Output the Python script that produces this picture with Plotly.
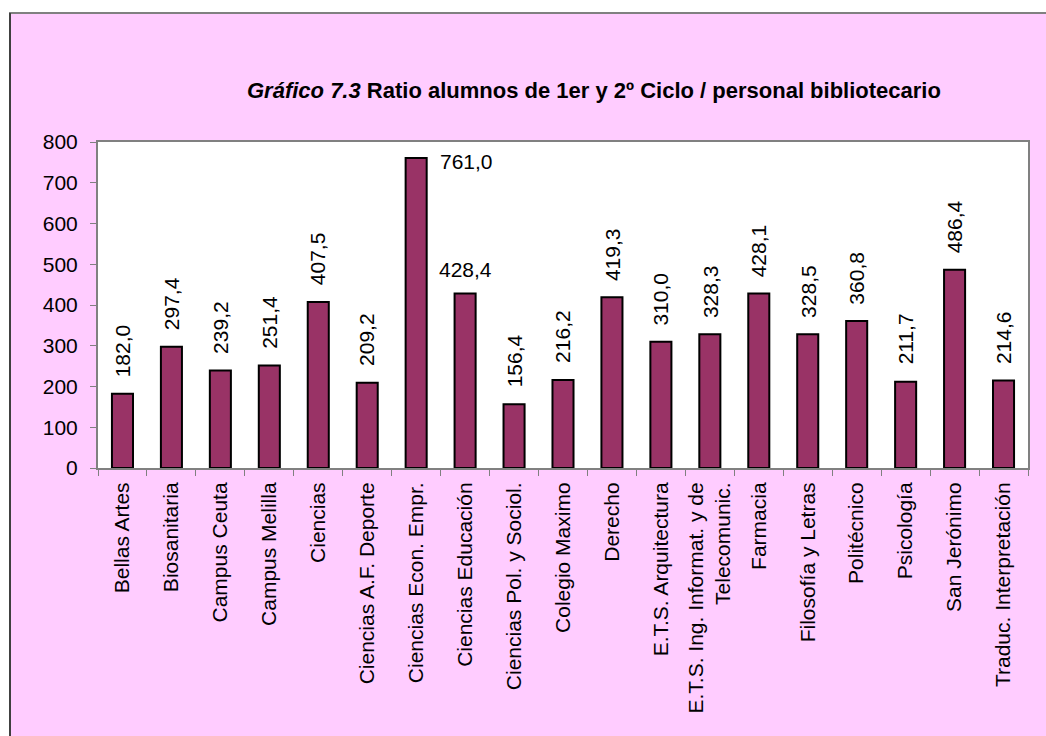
import plotly.graph_objects as go

# Ratio of 1st/2nd cycle students per library staff member, by library
centros = [
    "Bellas Artes", "Biosanitaria", "Campus Ceuta", "Campus Melilla", "Ciencias",
    "Ciencias A.F. Deporte", "Ciencias Econ. Empr.", "Ciencias Educación",
    "Ciencias Pol. y Sociol.", "Colegio Maximo", "Derecho", "E.T.S. Arquitectura",
    "E.T.S. Ing. Informat. y de<br>Telecomunic.", "Farmacia", "Filosofía y Letras",
    "Politécnico", "Psicología", "San Jerónimo", "Traduc. Interpretación",
]
ratios = [182.0, 297.4, 239.2, 251.4, 407.5, 209.2, 761.0, 428.4, 156.4, 216.2,
          419.3, 310.0, 328.3, 428.1, 328.5, 360.8, 211.7, 486.4, 214.6]
y_ticks = [0, 100, 200, 300, 400, 500, 600, 700, 800]

W, H = 1046, 736
L, R, T, B = 98, 1028, 142, 468   # plot area in pixels
FONT = "Liberation Sans, Arial, sans-serif"
FS = 21


def px_x(p):
    return (p - L) / (R - L)


def px_y(p):
    return (B - p) / (B - T)


def fmt(v):
    return f"{v:.1f}".replace(".", ",")


fig = go.Figure()
fig.add_trace(go.Bar(
    x=centros, y=ratios,
    marker=dict(color="#993366", line=dict(color="#000000", width=2)),
    hoverinfo="x+y",
))

annotations = []
for c, v in zip(centros, ratios):
    if v == 761.0:
        annotations.append(dict(x=c, y=v, text=fmt(v), showarrow=False,
                                xanchor="left", yanchor="middle", xshift=22, yshift=-4,
                                font=dict(family=FONT, size=FS, color="#000")))
    elif v == 428.4:
        annotations.append(dict(x=c, y=v, text=fmt(v), showarrow=False,
                                xanchor="center", yanchor="middle", yshift=24,
                                font=dict(family=FONT, size=FS, color="#000")))
    else:
        annotations.append(dict(x=c, y=v, text=fmt(v), showarrow=False, textangle=-90,
                                xanchor="center", yanchor="middle", yshift=43,
                                font=dict(family=FONT, size=FS, color="#000")))

annotations.append(dict(
    xref="paper", yref="paper", x=px_x(594), y=px_y(90),
    text="<b><i>Gráfico 7.3</i> Ratio alumnos de 1er y 2º Ciclo / personal bibliotecario</b>",
    showarrow=False, xanchor="center", yanchor="middle",
    font=dict(family=FONT, size=22, color="#000"),
))

shapes = [
    # white strips outside the chart frame
    dict(type="rect", xref="paper", yref="paper", layer="below",
         x0=px_x(0), x1=px_x(W), y0=px_y(0), y1=px_y(13),
         fillcolor="white", line=dict(width=0)),
    dict(type="rect", xref="paper", yref="paper", layer="below",
         x0=px_x(0), x1=px_x(9), y0=px_y(0), y1=px_y(H),
         fillcolor="white", line=dict(width=0)),
    # chart frame lines
    dict(type="line", xref="paper", yref="paper",
         x0=px_x(9), x1=px_x(W), y0=px_y(13), y1=px_y(13),
         line=dict(color="#808080", width=2)),
    dict(type="line", xref="paper", yref="paper",
         x0=px_x(10), x1=px_x(10), y0=px_y(13), y1=px_y(H),
         line=dict(color="#404040", width=2)),
]

fig.update_layout(
    width=W, height=H,
    margin=dict(l=L, r=W - R, t=T, b=H - B, pad=0),
    paper_bgcolor="#FFCCFF",
    plot_bgcolor="#FFFFFF",
    bargap=0.57,
    showlegend=False,
    font=dict(family=FONT, size=FS, color="#000"),
    annotations=annotations,
    shapes=shapes,
)
fig.update_xaxes(
    type="category", tickangle=-90, tickson="boundaries",
    ticks="outside", ticklen=6, tickcolor="#808080", ticklabelstandoff=4,
    showline=True, linecolor="#808080", linewidth=2, mirror=True,
    showgrid=False, tickfont=dict(family=FONT, size=FS, color="#000"),
)
fig.update_yaxes(
    range=[0, 800], tickvals=y_ticks, ticktext=[str(t) for t in y_ticks],
    ticks="outside", ticklen=6, tickcolor="#808080", ticklabelstandoff=8,
    showline=True, linecolor="#808080", linewidth=2, mirror=True,
    showgrid=False, zeroline=False,
    tickfont=dict(family=FONT, size=FS, color="#000"),
)

fig.write_html("out.html")
